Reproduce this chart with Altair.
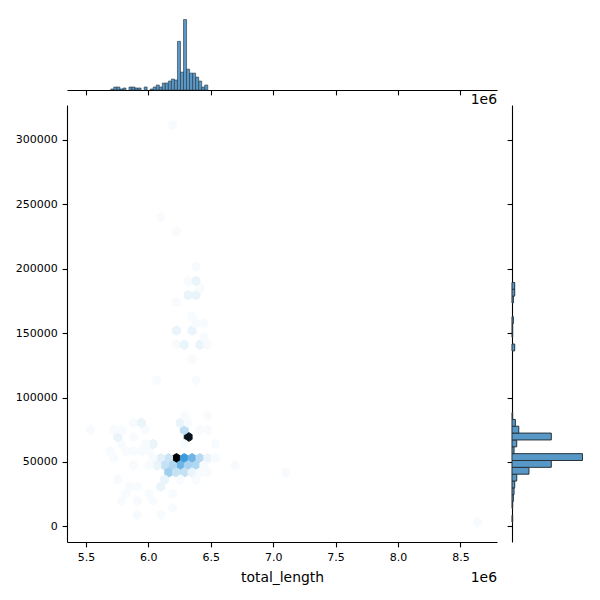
import colorsys
import numpy as np
import pandas as pd
import altair as alt

# ---------------- data ----------------
# data extent (total_length in units of 1e6)
X_MIN, X_MAX = 5.505, 8.636
Y_MIN, Y_MAX = 3300, 311600
GRID_NX, GRID_NY = 50, 28          # hexbin grid

# hexbin cells: half-step column / row indices and counts
hex_u = [23, 26, 25, 27, 29, 31, 33, 21, 19, 17, 7,
         24, 26, 28, 22, 20, 18, 16, 12, 38, 30,
         21, 23, 25, 27, 29, 31, 51,
         20, 28, 8, 24,
         19, 11, 13,
         22, 10, 16,
         9, 13, 17,
         22, 19, 13, 100,
         6, 10, 12, 14, 16,
         17, 9, 15, 25, 33,
         8, 12,
         25, 31, 29, 15, 9, 7, 1,
         24, 26, 12, 14,
         25, 31,
         18, 28, 27, 23, 25, 29, 31, 30, 23, 27, 28, 30, 27, 23, 26, 28, 29, 26, 28, 28,
         23, 19, 22]
hex_v = [9, 12, 9, 9, 9, 9, 9, 9, 9, 9, 9,
         8, 8, 8, 8, 8, 8, 8, 8, 8, 8,
         7, 7, 7, 7, 7, 7, 7,
         6, 6, 6, 6,
         5, 5, 5,
         4, 4, 4,
         3, 3, 3,
         2, 1, 1, 0,
         10, 10, 10, 10, 10,
         11, 11, 11, 11, 11,
         12, 12,
         13, 13, 13, 13, 13, 13, 13,
         14, 14, 14, 14,
         15, 15,
         20, 20, 23, 25, 25, 25, 25, 26, 27, 27, 28, 28, 29, 31, 32, 32, 33, 34, 34, 36,
         41, 43, 56]
hex_count = [60, 56, 27, 20, 10, 3, 1, 7, 4, 1, 1,
             20, 12, 11, 11, 8, 3, 1, 1, 1, 1,
             13, 8, 8, 3, 1, 1, 1,
             3, 1, 1, 1,
             3, 1, 1,
             1, 1, 1,
             1, 1, 1,
             1, 1, 1, 1,
             1, 1, 1, 1, 1,
             3, 1, 1, 1, 1,
             3, 1,
             9, 1, 1, 1, 1, 1, 1,
             3, 1, 1, 3,
             1, 1,
             1, 1, 1, 1, 3, 3, 1, 1, 3, 3, 1, 1, 1, 1, 3, 3, 1, 1, 3, 1,
             1, 1, 1]

# top marginal histogram of total_length
TOP_BINS = 129
top_bin = [8, 9, 10, 11, 12, 14, 15, 16, 17, 19, 21, 22, 23, 24, 25, 26, 27, 28, 29,
           30, 31, 32, 33, 34, 35, 36, 37, 38, 39]
top_count = [1, 3, 3, 1, 2, 3, 3, 2, 2, 3, 1, 3, 5, 3, 7, 7, 9, 11, 10,
             49, 18, 71, 21, 17, 17, 13, 9, 3, 5]

# right marginal histogram of y
RIGHT_BINS = 58
right_bin = [0, 2, 3, 4, 5, 6, 7, 8, 9, 10, 11, 12, 13, 14, 15, 25, 27, 28, 29, 32, 33, 34]
right_count = [1, 1, 2, 3, 4, 7, 25, 58, 104, 3, 7, 58, 10, 5, 1, 4, 1, 1, 2, 2, 4, 4]

x_ticks = [5.5, 6.0, 6.5, 7.0, 7.5, 8.0, 8.5]
y_ticks = [0, 50000, 100000, 150000, 200000, 250000, 300000]

# ---------------- tables ----------------
sx = (X_MAX - X_MIN) / GRID_NX
sy = (Y_MAX - Y_MIN) / GRID_NY
hex_df = pd.DataFrame({
    "x": [X_MIN + u * sx / 2 for u in hex_u],
    "y": [Y_MIN + v * sy / 2 for v in hex_v],
    "count": hex_count,
})

tw = (X_MAX - X_MIN) / TOP_BINS
top_df = pd.DataFrame({
    "x0": [X_MIN + b * tw for b in top_bin],
    "x1": [X_MIN + (b + 1) * tw for b in top_bin],
    "count": top_count,
    "base": 0,
})
rw = (Y_MAX - Y_MIN) / RIGHT_BINS
right_df = pd.DataFrame({
    "y0": [Y_MIN + b * rw for b in right_bin],
    "y1": [Y_MIN + (b + 1) * rw for b in right_bin],
    "count": right_count,
    "base": 0,
})

# ---------------- styles ----------------
W, H, M = 430, 437, 74
FONT = "DejaVu Sans"
FS = 11          # tick labels
TS = 13.9        # axis title / offset text
xr = X_MAX - X_MIN
yr = Y_MAX - Y_MIN
x_dom = [X_MIN - 0.05 * xr, X_MAX + 0.05 * xr]
y_dom = [Y_MIN - 0.05 * yr, Y_MAX + 0.05 * yr]

h, l, s = colorsys.rgb_to_hls(31 / 255, 119 / 255, 180 / 255)
cmap = []
for li in np.linspace(1, 0, 12):
    r, g, b = colorsys.hls_to_rgb(h, li, s)
    cmap.append("#%02x%02x%02x" % (round(r * 255), round(g * 255), round(b * 255)))
cscale = alt.Scale(domain=[0, max(hex_count)], range=cmap, interpolate="rgb")

# hexagon (pointy top) matching hexbin cell proportions
px_sx = sx / (x_dom[1] - x_dom[0]) * W
px_sy = sy / (y_dom[1] - y_dom[0]) * H
half_w = 1.5 * px_sx / px_sy
HEX_PATH = (f"M0,-1L{half_w:.3f},-0.5L{half_w:.3f},0.5L0,1L-{half_w:.3f},0.5L-{half_w:.3f},-0.5Z")
HEX_SIZE = (2 * px_sy / 3) ** 2

BAR_FILL = "#5898c6"
BAR_EDGE = "#28333c"

xscale = alt.Scale(domain=x_dom, nice=False, zero=False)
yscale = alt.Scale(domain=y_dom, nice=False, zero=False)

# ---------------- charts ----------------
hexes = alt.Chart(hex_df).mark_point(
    shape=HEX_PATH, filled=True, size=HEX_SIZE, opacity=1, strokeWidth=1
).encode(
    x=alt.X("x:Q", scale=xscale,
            axis=alt.Axis(values=x_ticks, format=".1f", title="total_length",
                          titlePadding=8, titleFontSize=TS)),
    y=alt.Y("y:Q", scale=yscale,
            axis=alt.Axis(values=y_ticks, format="d", title=None)),
    fill=alt.Fill("count:Q", scale=cscale, legend=None),
    stroke=alt.Stroke("count:Q", scale=cscale, legend=None),
)
joint_off = alt.Chart(pd.DataFrame({"t": ["1e6"]})).mark_text(
    align="right", baseline="middle", font=FONT, fontSize=TS, color="black"
).encode(text="t:N", x=alt.value(W), y=alt.value(H + 36))
joint = alt.layer(hexes, joint_off).properties(width=W, height=H)

top_bars = alt.Chart(top_df).mark_rect(
    fill=BAR_FILL, stroke=BAR_EDGE, strokeWidth=0.6
).encode(
    x=alt.X("x0:Q", scale=xscale,
            axis=alt.Axis(values=x_ticks, labels=False, title=None)),
    x2="x1:Q",
    y=alt.Y("count:Q", scale=alt.Scale(domain=[0, max(top_count) * 1.05], nice=False), axis=None),
    y2="base:Q",
)
top_off = alt.Chart(pd.DataFrame({"t": ["1e6"]})).mark_text(
    align="right", baseline="middle", font=FONT, fontSize=TS, color="black"
).encode(text="t:N", x=alt.value(W), y=alt.value(M + 10))
top = alt.layer(top_bars, top_off).properties(width=W, height=M)

right = alt.Chart(right_df).mark_rect(
    fill=BAR_FILL, stroke=BAR_EDGE, strokeWidth=1
).encode(
    y=alt.Y("y0:Q", scale=yscale, axis=alt.Axis(values=y_ticks, labels=False, title=None)),
    y2="y1:Q",
    x=alt.X("count:Q", scale=alt.Scale(domain=[0, max(right_count) * 1.05], nice=False), axis=None),
    x2="base:Q",
).properties(width=M, height=H)

blank = alt.Chart(pd.DataFrame({"a": [0]})).mark_point(opacity=0).encode(
    x=alt.X("a:Q", axis=None), y=alt.Y("a:Q", axis=None)
).properties(width=M, height=M)

chart = alt.concat(
    top, blank, joint, right, columns=2, spacing=15, bounds="flush"
).properties(
    padding={"left": 7, "top": 8, "right": 5, "bottom": 5}
).configure(font=FONT).configure_view(stroke=None).configure_axis(
    grid=False, domainColor="black", domainWidth=1.1, tickColor="black", tickWidth=1.1,
    tickSize=4.9, labelPadding=4.9, labelFont=FONT, labelFontSize=FS, labelColor="black",
    titleFont=FONT, titleFontSize=TS, titleFontWeight="normal", titleColor="black",
)

chart.save("out.html", embed_options={"renderer": "svg", "actions": False})
